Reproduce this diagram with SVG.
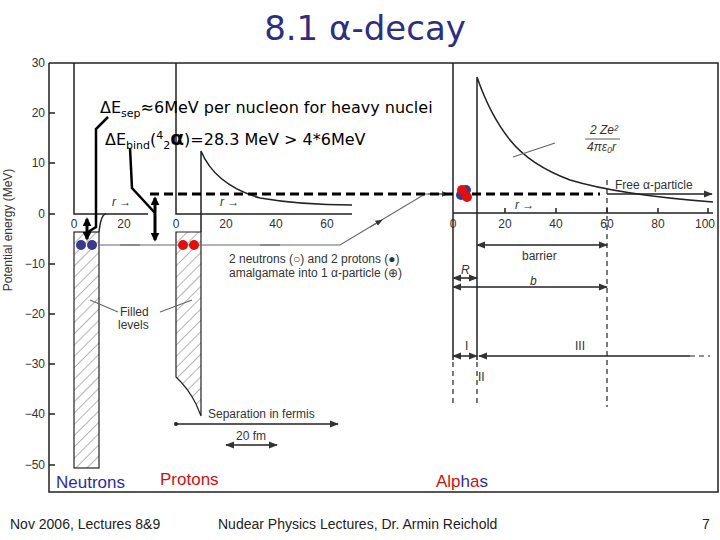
<svg xmlns="http://www.w3.org/2000/svg" width="720" height="540" viewBox="0 0 720 540">
<style>
.ax{font-family:"Liberation Sans",Arial,sans-serif;font-size:12px;fill:#333}
.lb{font-family:"Liberation Sans",Arial,sans-serif;font-size:12px;fill:#333}
.ov{font-family:"DejaVu Sans",sans-serif;font-size:16px;fill:#000}
.ft{font-family:"Liberation Sans",Arial,sans-serif;font-size:14px;fill:#222}
.ln{stroke:#222;stroke-width:1.5;fill:none}
.th{stroke:#000;stroke-width:3;fill:none}
.gr{stroke:#666;stroke-width:1.2;fill:none}
.dsh{stroke:#222;stroke-width:1.2;stroke-dasharray:5 4;fill:none}
</style>
<defs>
<pattern id="h" width="8" height="8" patternUnits="userSpaceOnUse" patternTransform="rotate(45)">
<line x1="0" y1="0" x2="0" y2="8" stroke="#444" stroke-width="0.8"/>
</pattern>
<marker id="a" viewBox="0 0 10 10" refX="9" refY="5" markerWidth="6" markerHeight="6" orient="auto-start-reverse"><path d="M0,1L10,5L0,9z" fill="#333"/></marker>
<marker id="tb" viewBox="0 0 10 10" refX="8" refY="5" markerWidth="3" markerHeight="3" orient="auto-start-reverse"><path d="M0,0L10,5L0,10z" fill="#000"/></marker>
</defs>
<rect width="720" height="540" fill="#fff"/>
<text x="365" y="40" text-anchor="middle" font-family="DejaVu Sans,sans-serif" font-size="34" fill="#2e2e80">8.1 α-decay</text>
<g id="frame">
<polyline class="ln" points="49,63 718,63 718,492 49,492 49,63"/>
<g class="ax" text-anchor="end">
<text x="45" y="67">30</text><text x="45" y="117">20</text><text x="45" y="167">10</text><text x="45" y="218">0</text>
<text x="45" y="268">−10</text><text x="45" y="318">−20</text><text x="45" y="368">−30</text><text x="45" y="418">−40</text><text x="45" y="469">−50</text>
</g>
<path class="ln" d="M49,113h6M49,163h6M49,214h6M49,264h6M49,314h6M49,364h6M49,414h6M49,465h6"/>
<text class="lb" transform="translate(12,230) rotate(-90)" text-anchor="middle" font-size="13">Potential energy (MeV)</text>
</g>
<g id="neutron-panel">
<path class="ln" d="M74,63V214H148"/>
<rect x="74" y="232" width="25" height="236" fill="url(#h)" stroke="#222" stroke-width="1.2"/>
<path class="ln" d="M99,232 Q101,214 106,214"/>
<text class="ax" x="74" y="228" text-anchor="middle">0</text><text class="ax" x="124" y="228" text-anchor="middle">20</text>
<text class="lb" x="112" y="206" font-style="italic">r →</text>
</g>
<g id="proton-panel">
<path class="ln" d="M176,63V214H352"/>
<path d="M176,232H201V416L196,404Q188,388 176,377Z" fill="url(#h)" stroke="#222" stroke-width="1.2"/>
<path class="ln" d="M201,232V151 Q215,185 260,198 Q300,205 352,205"/>
<text class="ax" x="176" y="228" text-anchor="middle">0</text><text class="ax" x="226" y="228" text-anchor="middle">20</text><text class="ax" x="276" y="228" text-anchor="middle">40</text><text class="ax" x="327" y="228" text-anchor="middle">60</text>
<text class="lb" x="220" y="206" font-style="italic">r →</text>
<text class="lb" x="120" y="316">Filled</text><text class="lb" x="118" y="329">levels</text>
<path class="gr" d="M90,300 L118,312M160,312 L192,300"/>
<text class="lb" x="208" y="418">Separation in fermis</text>
<line class="ln" x1="176" y1="424" x2="338" y2="424" marker-end="url(#a)" stroke-width="1"/>
<circle cx="176" cy="424" r="2" fill="#222"/>
<text class="lb" x="236" y="440">20 fm</text>
<line class="ln" x1="226" y1="445" x2="277" y2="445" marker-start="url(#a)" marker-end="url(#a)" stroke-width="1"/>
</g>
<g id="alpha-panel">
<path class="ln" d="M453,63V360M453,213H713"/>
<path class="ln" d="M477,360V77 Q490,115 510,140 Q530,165 570,180 Q620,195 713,202"/>
<path class="ln" d="M505,213v-5M556,213v-5M607,213v-5M658,213v-5M708,213v-5"/>
<g class="ax" text-anchor="middle"><text x="453" y="228">0</text><text x="505" y="228">20</text><text x="556" y="228">40</text><text x="607" y="228">60</text><text x="658" y="228">80</text><text x="705" y="228">100</text></g>
<text class="lb" x="515" y="209" font-style="italic">r →</text>
<path class="dsh" d="M607,180V407M453,362V407M477,362V407"/>
<text class="lb" x="590" y="134" font-style="italic" font-size="11">2 Ze²</text>
<line x1="585" y1="139" x2="620" y2="139" stroke="#333" stroke-width="0.8"/>
<text class="lb" x="587" y="151" font-style="italic" font-size="11">4πε₀r</text>
<line class="gr" x1="513" y1="157" x2="555" y2="143"/>
<text class="lb" x="615" y="189">Free α-particle</text>
<line class="ln" x1="607" y1="194" x2="712" y2="194" stroke-width="1" marker-end="url(#a)"/>
<line class="ln" x1="477" y1="245" x2="607" y2="245" stroke-width="1" marker-start="url(#a)" marker-end="url(#a)"/>
<text class="lb" x="522" y="260">barrier</text>
<line class="ln" x1="453" y1="278" x2="477" y2="278" stroke-width="1" marker-start="url(#a)" marker-end="url(#a)"/>
<text class="lb" x="461" y="274" font-style="italic">R</text>
<line class="ln" x1="453" y1="287" x2="607" y2="287" stroke-width="1" marker-start="url(#a)" marker-end="url(#a)"/>
<text class="lb" x="530" y="285" font-style="italic">b</text>
<line class="ln" x1="453" y1="356" x2="477" y2="356" stroke-width="1" marker-start="url(#a)" marker-end="url(#a)"/>
<line class="ln" x1="479" y1="356" x2="690" y2="356" stroke-width="1" marker-start="url(#a)"/>
<path class="dsh" d="M690,356H710"/>
<text class="lb" x="465" y="350">I</text><text class="lb" x="478" y="381">II</text><text class="lb" x="575" y="350">III</text>
</g>
<g id="connectors">
<path class="gr" d="M99,245H340L425,194H446" />
<path class="gr" d="M120,245h20M260,245h20M370,227l12,-7" marker-end="url(#a)"/>
<line class="gr" x1="428" y1="194" x2="448" y2="194" marker-end="url(#a)"/>
<text class="lb" x="229" y="263">2 neutrons (○) and 2 protons (●)</text>
<text class="lb" x="229" y="277">amalgamate into 1 α-particle (⊕)</text>
<path d="M150,194H600" stroke="#000" stroke-width="3" stroke-dasharray="9 5" fill="none"/>
<line class="th" x1="87" y1="219" x2="87" y2="239" marker-start="url(#tb)" marker-end="url(#tb)"/>
<line class="th" x1="155" y1="198" x2="155" y2="240" marker-start="url(#tb)" marker-end="url(#tb)"/>
<path d="M108,117L96,129V227L88,232M130,148L132,188L155,213" stroke="#000" stroke-width="2.5" fill="none"/>
</g>
<g id="particles">
<circle cx="81" cy="245" r="5" fill="#3a3a8c"/><circle cx="92" cy="245" r="5" fill="#3a3a8c"/>
<circle cx="183" cy="245" r="5" fill="#e01010"/><circle cx="194" cy="245" r="5" fill="#e01010"/>
<circle cx="461" cy="195" r="5" fill="#3a3a8c"/><circle cx="466" cy="190" r="5" fill="#3a3a8c"/>
<circle cx="462" cy="190" r="5" fill="#e01010"/><circle cx="467" cy="197" r="5" fill="#e01010"/>
</g>
<g id="overlay">
<text class="ov" x="100" y="113">ΔE<tspan font-size="11" dy="4">sep</tspan><tspan dy="-4">≈6MeV per nucleon for heavy nuclei</tspan></text>
<text class="ov" x="105" y="145">ΔE<tspan font-size="11" dy="4">bind</tspan><tspan dy="-4">(</tspan><tspan font-size="11" dy="-6">4</tspan><tspan font-size="11" dy="10">2</tspan><tspan dy="-4" font-weight="bold" font-size="20">α</tspan><tspan>)=28.3 MeV &gt; 4*6MeV</tspan></text>
<text x="56" y="488" font-family="Liberation Sans,sans-serif" font-size="17" fill="#2e2e9a">Neutrons</text>
<text x="160" y="485" font-family="Liberation Sans,sans-serif" font-size="17" fill="#d01010">Protons</text>
<text x="436" y="487" font-family="Liberation Sans,sans-serif" font-size="17" fill="#2e2e9a"><tspan fill="#d01010">Alp</tspan>h<tspan fill="#d01010">a</tspan>s</text>
</g>
<g id="footer">
<text class="ft" x="10" y="529">Nov 2006, Lectures 8&amp;9</text>
<text class="ft" x="218" y="529">Nudear Physics  Lectures, Dr. Armin Reichold</text>
<text class="ft" x="702" y="529">7</text>
</g>
</svg>
